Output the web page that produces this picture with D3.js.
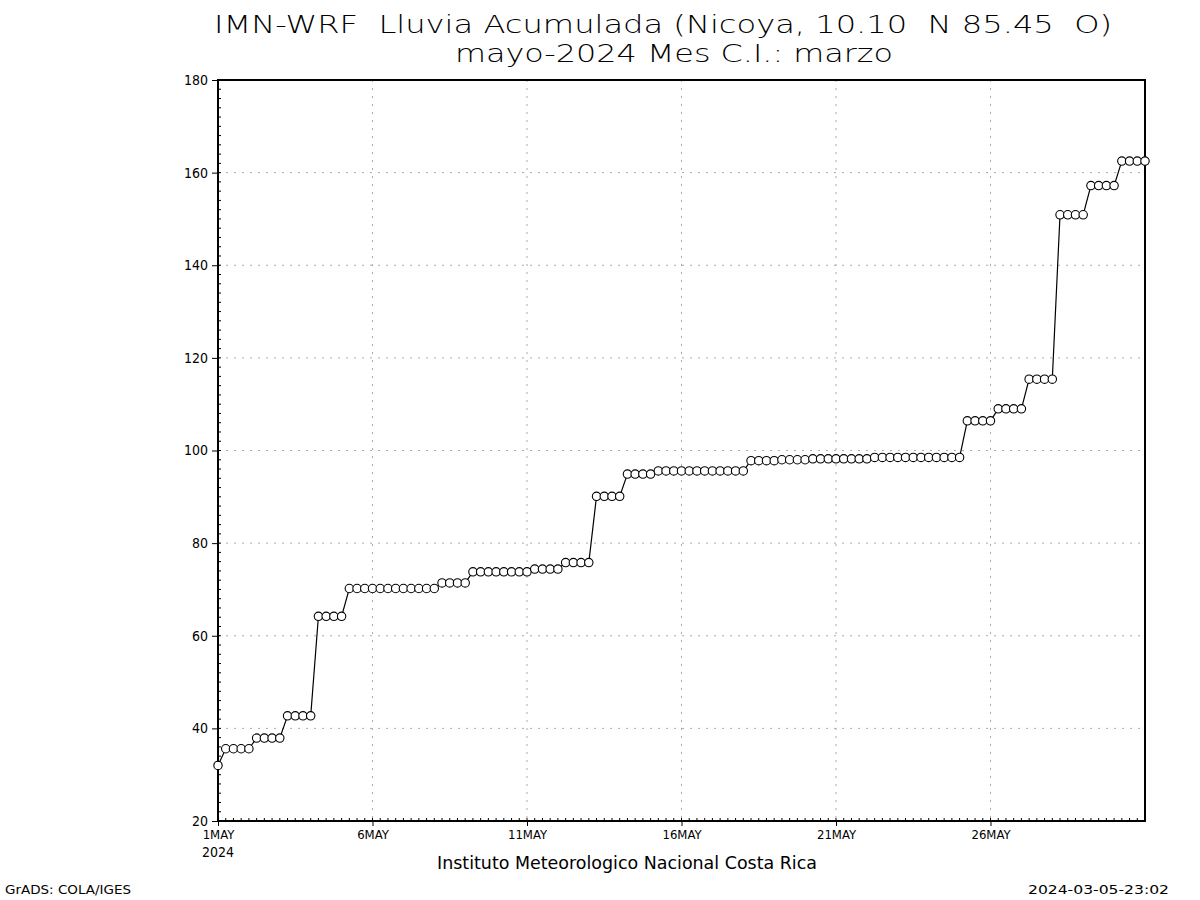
<!DOCTYPE html>
<html>
<head>
<meta charset="utf-8">
<script src="https://cdn.jsdelivr.net/npm/d3@7"></script>
<style>
  body { margin: 0; background: #fff; }
  text { font-family: "DejaVu Sans Condensed", "Liberation Sans", sans-serif; fill: #000; white-space: pre; }
  .thin { font-family: "DejaVu Sans", sans-serif; font-weight: 200; }
</style>
</head>
<body>
<svg id="chart" width="1200" height="900"></svg>
<script>
// data: accumulated rain (mm), every 6 hours from 1 May 2024 00Z
const rain = [
  32.0,
  35.6, 35.6, 35.6, 35.6,
  37.9, 37.9, 37.9, 37.9,
  42.7, 42.7, 42.7, 42.7,
  64.2, 64.2, 64.2, 64.2,
  70.2, 70.2, 70.2, 70.2, 70.2, 70.2, 70.2, 70.2, 70.2, 70.2, 70.2, 70.2,
  71.4, 71.4, 71.4, 71.4,
  73.8, 73.8, 73.8, 73.8, 73.8, 73.8, 73.8, 73.8,
  74.4, 74.4, 74.4, 74.4,
  75.8, 75.8, 75.8, 75.8,
  90.1, 90.1, 90.1, 90.1,
  94.9, 94.9, 94.9, 94.9,
  95.6, 95.6, 95.6, 95.6, 95.6, 95.6, 95.6, 95.6, 95.6, 95.6, 95.6, 95.6,
  97.8, 97.8, 97.8, 97.8,
  98.0, 98.0, 98.0, 98.0,
  98.2, 98.2, 98.2, 98.2, 98.2, 98.2, 98.2, 98.2,
  98.5, 98.5, 98.5, 98.5, 98.5, 98.5, 98.5, 98.5, 98.5, 98.5, 98.5, 98.5,
  106.4, 106.4, 106.4, 106.4,
  109.0, 109.0, 109.0, 109.0,
  115.4, 115.4, 115.4, 115.4,
  150.9, 150.9, 150.9, 150.9,
  157.2, 157.2, 157.2, 157.2,
  162.5, 162.5, 162.5, 162.5
];
const yTicks = [20, 40, 60, 80, 100, 120, 140, 160, 180];
const xTickDays = [1, 6, 11, 16, 21, 26];
const titleLines = ["IMN-WRF  Lluvia Acumulada (Nicoya, 10.10  N 85.45  O)", "mayo-2024 Mes C.I.: marzo"];
const footer = "Instituto Meteorologico Nacional Costa Rica";
const leftNote = "GrADS: COLA/IGES";
const rightNote = "2024-03-05-23:02";

const start = new Date(Date.UTC(2024, 4, 1));
const end = new Date(Date.UTC(2024, 4, 31));
const times = rain.map((v, i) => d3.utcHour.offset(start, i * 6));

const margin = {left: 218, right: 1145, top: 80, bottom: 821};
const svg = d3.select('#chart');

const x = d3.scaleUtc().domain([start, end]).range([margin.left, margin.right]);
const y = d3.scaleLinear().domain([20, 180]).range([margin.bottom, margin.top]);

// grid
const grid = svg.append('g').attr('stroke', '#aaa').attr('stroke-dasharray', '2,6').attr('stroke-width', 1);
grid.selectAll('line.h').data(yTicks.slice(1, -1)).join('line')
  .attr('x1', margin.left).attr('x2', margin.right)
  .attr('y1', d => y(d)).attr('y2', d => y(d));
grid.selectAll('line.v').data(xTickDays.slice(1)).join('line')
  .attr('x1', d => x(new Date(Date.UTC(2024, 4, d)))).attr('x2', d => x(new Date(Date.UTC(2024, 4, d))))
  .attr('y1', margin.top).attr('y2', margin.bottom);

// minor ticks
const minor = svg.append('g').attr('stroke', '#000').attr('stroke-width', 1);
minor.selectAll('line.mx').data(d3.utcHour.every(6).range(start, end)).join('line')
  .attr('x1', d => x(d)).attr('x2', d => x(d))
  .attr('y1', margin.bottom).attr('y2', margin.bottom - 3);
minor.selectAll('line.my').data(d3.range(20, 181, 2)).join('line')
  .attr('x1', margin.left).attr('x2', margin.left + 3)
  .attr('y1', d => y(d)).attr('y2', d => y(d));

// y axis
const yAxis = d3.axisLeft(y).tickValues(yTicks).tickSize(6).tickPadding(4);
svg.append('g').attr('transform', `translate(${margin.left},0)`).call(yAxis)
  .call(g => g.select('.domain').remove())
  .call(g => g.selectAll('text').style('font-size', '14px').style('font-family', null));

// x axis
const xAxis = d3.axisBottom(x)
  .tickValues(xTickDays.map(d => new Date(Date.UTC(2024, 4, d))))
  .tickSize(5).tickPadding(4)
  .tickFormat(d => d.getUTCDate() + 'MAY');
svg.append('g').attr('transform', `translate(0,${margin.bottom})`).call(xAxis)
  .call(g => g.select('.domain').remove())
  .call(g => g.selectAll('text').style('font-size', '13px').style('font-family', null));
svg.append('text').attr('x', x(start)).attr('y', 857).attr('text-anchor', 'middle')
  .style('font-size', '14px').text('2024');

// frame
svg.append('rect')
  .attr('x', margin.left).attr('y', margin.top)
  .attr('width', margin.right - margin.left).attr('height', margin.bottom - margin.top)
  .attr('fill', 'none').attr('stroke', '#000').attr('stroke-width', 2);

// line + markers
const line = d3.line().x((d, i) => x(times[i])).y(d => y(d));
svg.append('path').datum(rain).attr('d', line)
  .attr('fill', 'none').attr('stroke', '#000').attr('stroke-width', 1.2);
svg.append('g').selectAll('circle').data(rain).join('circle')
  .attr('cx', (d, i) => x(times[i])).attr('cy', d => y(d)).attr('r', 4.2)
  .attr('fill', '#fff').attr('stroke', '#000').attr('stroke-width', 1.1);

// titles
svg.append('text').attr('class', 'thin').attr('x', 663).attr('y', 33).attr('text-anchor', 'middle')
  .attr('textLength', 898).attr('lengthAdjust', 'spacingAndGlyphs')
  .style('font-size', '24px').text(titleLines[0]);
svg.append('text').attr('class', 'thin').attr('x', 674).attr('y', 62).attr('text-anchor', 'middle')
  .attr('textLength', 438).attr('lengthAdjust', 'spacingAndGlyphs')
  .style('font-size', '24px').text(titleLines[1]);
svg.append('text').attr('x', 627).attr('y', 869).attr('text-anchor', 'middle')
  .attr('textLength', 380).attr('lengthAdjust', 'spacingAndGlyphs')
  .style('font-size', '17px').text(footer);
svg.append('text').attr('x', 5).attr('y', 894).attr('textLength', 126).attr('lengthAdjust', 'spacingAndGlyphs')
  .style('font-size', '13px').text(leftNote);
svg.append('text').attr('x', 1169).attr('y', 894).attr('text-anchor', 'end')
  .attr('textLength', 141).attr('lengthAdjust', 'spacingAndGlyphs')
  .style('font-size', '13px').text(rightNote);
</script>
</body>
</html>
